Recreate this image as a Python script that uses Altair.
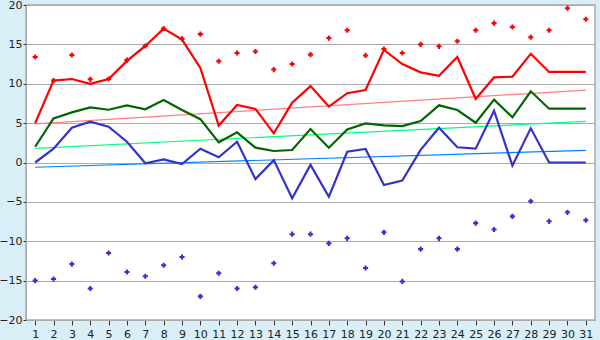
import altair as alt
import pandas as pd

days = list(range(1, 32))
tmax = [5.0, 10.4, 10.6, 10.0, 10.6, 12.9, 14.8, 17.0, 15.6, 12.0, 4.7, 7.3, 6.8, 3.7, 7.6, 9.7,
        7.1, 8.8, 9.2, 14.3, 12.5, 11.45, 11.0, 13.4, 8.06, 10.8, 10.9, 13.8, 11.5, 11.5, 11.5]
tmean = [2.0, 5.6, 6.37, 7.0, 6.7, 7.26, 6.75, 7.94, 6.67, 5.5, 2.56, 3.83, 1.88, 1.46, 1.59, 4.25,
         1.88, 4.2, 4.97, 4.72, 4.63, 5.27, 7.26, 6.67, 5.06, 7.98, 5.74, 9.04, 6.83, 6.83, 6.83]
tmin = [0.0, 1.75, 4.42, 5.18, 4.55, 2.64, -0.1, 0.4, -0.2, 1.75, 0.66, 2.64, -2.1, 0.3, -4.55, -0.3,
        -4.34, 1.37, 1.71, -2.86, -2.3, 1.6, 4.42, 1.93, 1.75, 6.58, -0.4, 4.34, 0.0, 0.0, 0.0]
abs_max = [13.4, 10.4, 13.65, 10.56, 10.6, 13.0, 14.8, 17.0, 15.7, 16.3, 12.85, 13.9, 14.1, 11.8,
           12.5, 13.7, 15.8, 16.8, 13.6, 14.4, 13.9, 15.0, 14.75, 15.4, 16.8, 17.7, 17.2, 15.9,
           16.8, 19.6, 18.2]
abs_min = [-15.0, -14.8, -12.9, -16.0, -11.5, -13.9, -14.45, -13.05, -12.0, -17.0, -14.07, -16.0,
           -15.85, -12.8, -9.1, -9.1, -10.27, -9.63, -13.4, -8.87, -15.1, -11.0, -9.63, -11.0,
           -7.7, -8.5, -6.84, -4.93, -7.47, -6.33, -7.34]

trend_days = [1, 31]
trend_max = [4.9, 9.2]
trend_mean = [1.8, 5.23]
trend_min = [-0.6, 1.55]

df = pd.DataFrame({"day": days, "tmax": tmax, "tmean": tmean, "tmin": tmin,
                   "amax": abs_max, "amin": abs_min})
tdf = pd.DataFrame({"day": trend_days, "tmax": trend_max, "tmean": trend_mean, "tmin": trend_min})

xs = alt.Scale(domain=[0.5, 31.5], nice=False, zero=False)
ys = alt.Scale(domain=[-20, 20], nice=False)

xax = alt.Axis(values=days, title=None, grid=False, labelFontSize=11, labelFont="DejaVu Sans",
               labelColor="#222", tickColor="#333", tickSize=5, domainColor="#aaaaaa",
               labelPadding=3, labelAngle=0)
yax = alt.Axis(values=[-20, -15, -10, -5, 0, 5, 10, 15, 20], title=None, grid=True,
               gridColor="#aaaaaa", labelFontSize=11, labelFont="DejaVu Sans", labelColor="#222",
               tickColor="#333", tickSize=3, domainColor="#aaaaaa", labelPadding=1)

base = alt.Chart(df)
tbase = alt.Chart(tdf)

def tline(field, color):
    return tbase.mark_line(color=color, strokeWidth=1.2).encode(
        x=alt.X("day:Q", scale=xs, axis=xax), y=alt.Y(f"{field}:Q", scale=ys, axis=yax))

def mline(field, color):
    return base.mark_line(color=color, strokeWidth=2.2).encode(
        x=alt.X("day:Q", scale=xs, axis=xax), y=alt.Y(f"{field}:Q", scale=ys, axis=yax))

def pts(field, color):
    return base.mark_point(shape="cross", filled=True, color=color, size=26, opacity=1).encode(
        x=alt.X("day:Q", scale=xs, axis=xax), y=alt.Y(f"{field}:Q", scale=ys, axis=yax))

chart = alt.layer(
    tline("tmax", "#ff8080"),
    tline("tmean", "#00ff80"),
    tline("tmin", "#0080ff"),
    mline("tmax", "#ff0000"),
    mline("tmean", "#006600"),
    mline("tmin", "#3333cc"),
    pts("amax", "#ff0000"),
    pts("amin", "#3333cc"),
).properties(
    width=569, height=315,
    autosize=alt.AutoSizeParams(type="none"),
    padding={"left": 26, "top": 5, "right": 5, "bottom": 20},
    background="#d9eef6",
).configure_view(fill="white", stroke="#aaaaaa", strokeWidth=1.5)

chart.save("out.html", embed_options={"renderer": "svg", "actions": False})
